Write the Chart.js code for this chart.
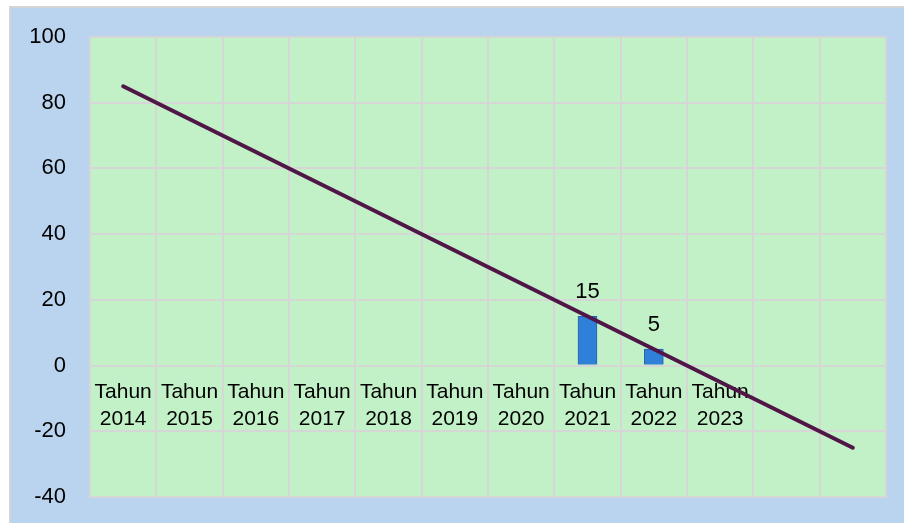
<!DOCTYPE html>
<html>
<head>
<meta charset="utf-8">
<script src="https://cdn.jsdelivr.net/npm/chart.js@4"></script>
<style>
  html, body { margin: 0; padding: 0; background: #ffffff; }
  #wrap { width: 904px; height: 523px; position: relative; }
  canvas { display: block; }
</style>
</head>
<body>
<div id="wrap"><canvas id="c" width="904" height="523"></canvas></div>
<script>
// ---- data ----
const categories = [
  ['Tahun', '2014'], ['Tahun', '2015'], ['Tahun', '2016'], ['Tahun', '2017'],
  ['Tahun', '2018'], ['Tahun', '2019'], ['Tahun', '2020'], ['Tahun', '2021'],
  ['Tahun', '2022'], ['Tahun', '2023'], '', ''
];
const barValues = [null, null, null, null, null, null, null, 15, 5, null, null, null];
const trendValues = [85, null, null, null, null, null, null, null, null, null, null, -25];
const yTicks = { min: -40, max: 100, step: 20 };

const FONT = "'Liberation Sans', Arial, sans-serif";
const GRID = '#d6d6d6';

const backgroundPlugin = {
  id: 'bgs',
  beforeDraw(chart) {
    const ctx = chart.ctx;
    const a = chart.chartArea;
    ctx.save();
    ctx.fillStyle = '#ffffff';
    ctx.fillRect(0, 0, chart.width, chart.height);
    ctx.fillStyle = '#bad4f0';
    ctx.fillRect(10, 7, chart.width - 10, chart.height - 7);
    ctx.strokeStyle = '#d4d4d4';
    ctx.lineWidth = 2;
    ctx.beginPath();
    ctx.moveTo(10, chart.height);
    ctx.lineTo(10, 7);
    ctx.lineTo(chart.width, 7);
    ctx.stroke();
    ctx.fillStyle = '#c3f1c7';
    ctx.fillRect(a.left, a.top, a.right - a.left, a.bottom - a.top);
    ctx.restore();
  },
  afterDraw(chart) {
    const ctx = chart.ctx;
    const a = chart.chartArea;
    ctx.save();
    ctx.strokeStyle = GRID;
    ctx.lineWidth = 2;
    ctx.strokeRect(a.left, a.top, a.right - a.left, a.bottom - a.top);
    ctx.restore();
  }
};

const barLabelPlugin = {
  id: 'barLabels',
  afterDatasetsDraw(chart) {
    const meta = chart.getDatasetMeta(0);
    const ctx = chart.ctx;
    ctx.save();
    ctx.font = '22px ' + FONT;
    ctx.fillStyle = '#000000';
    ctx.textAlign = 'center';
    ctx.textBaseline = 'alphabetic';
    meta.data.forEach((el, i) => {
      const v = chart.data.datasets[0].data[i];
      if (v === null || v === undefined) return;
      ctx.fillText(String(v), el.x, el.y - 18);
    });
    ctx.restore();
  }
};

function barGradient(context) {
  const chart = context.chart;
  const el = context.element;
  if (!chart.chartArea || !el || el.x === undefined) return '#2f80d8';
  const w = (el.width || 19) / 2;
  const g = chart.ctx.createLinearGradient(el.x - w, 0, el.x + w, 0);
  g.addColorStop(0, '#2a6fc4');
  g.addColorStop(0.2, '#3a8ce4');
  g.addColorStop(0.5, '#3f8fe6');
  g.addColorStop(0.8, '#2b79d3');
  g.addColorStop(1, '#1f5fae');
  return g;
}

new Chart(document.getElementById('c'), {
  data: {
    labels: categories,
    datasets: [
      {
        type: 'bar',
        data: barValues,
        backgroundColor: barGradient,
        borderColor: '#2a63a8',
        borderWidth: 1,
        barThickness: 19,
        order: 2
      },
      {
        type: 'line',
        data: trendValues,
        spanGaps: true,
        borderColor: '#501648',
        borderWidth: 4,
        pointRadius: 0,
        fill: false,
        tension: 0,
        borderCapStyle: 'round',
        order: 1
      }
    ]
  },
  options: {
    responsive: false,
    animation: false,
    devicePixelRatio: 1,
    layout: { padding: { left: 10, top: 37, right: 18, bottom: 26 } },
    plugins: {
      legend: { display: false },
      tooltip: { enabled: false },
      title: { display: false }
    },
    scales: {
      x: {
        position: { y: 0 },
        offset: true,
        grid: { offset: true, color: GRID, lineWidth: 2, drawTicks: false },
        border: { display: false },
        ticks: {
          autoSkip: false,
          maxRotation: 0,
          minRotation: 0,
          padding: 14,
          color: '#000000',
          font: { family: FONT, size: 21, lineHeight: 1.25 }
        }
      },
      y: {
        min: yTicks.min,
        max: yTicks.max,
        afterFit(scale) {
          scale.width = 80;
          scale.paddingTop = 0;
          scale.paddingBottom = 0;
        },
        grid: { color: GRID, lineWidth: 2, drawTicks: false },
        border: { display: true, color: GRID, width: 2 },
        ticks: {
          stepSize: yTicks.step,
          padding: 24,
          color: '#000000',
          font: { family: FONT, size: 22 }
        }
      }
    }
  },
  plugins: [backgroundPlugin, barLabelPlugin]
});
</script>
</body>
</html>
